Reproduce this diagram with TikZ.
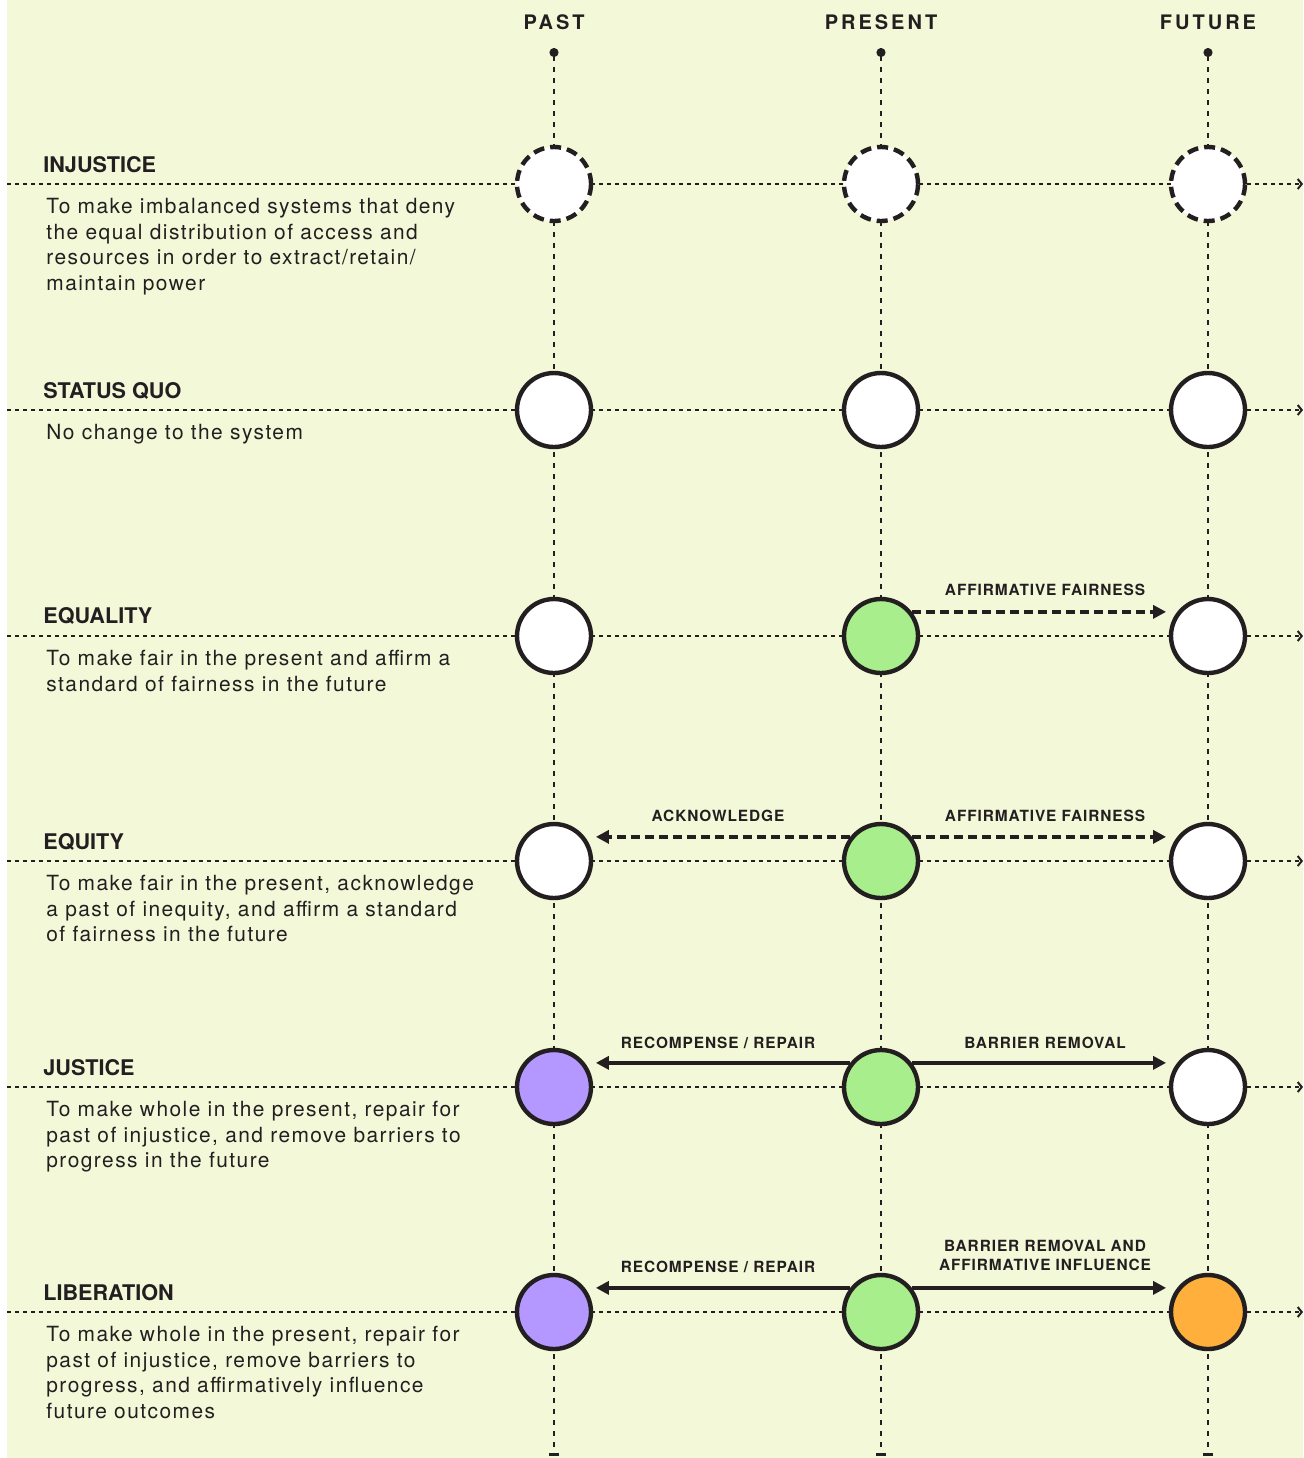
\documentclass[tikz,border=0pt]{standalone}
\usepackage{fontspec}
\setmainfont{TeX Gyre Heros}
\newfontfamily\descfont[LetterSpace=7]{TeX Gyre Heros}
\newfontfamily\headfont[LetterSpace=15]{TeX Gyre Heros}
\newfontfamily\tagfont[LetterSpace=6]{TeX Gyre Heros}
\usetikzlibrary{arrows.meta,positioning}
\definecolor{paper}{RGB}{242,248,216}
\definecolor{ink}{RGB}{35,31,32}
\definecolor{nowgreen}{RGB}{168,238,140}
\definecolor{pastpurple}{RGB}{181,152,255}
\definecolor{futorange}{RGB}{255,176,60}
\tikzset{
  hline/.style={ink,line width=1pt,dash pattern=on 2pt off 2pt,-{Straight Barb[length=2pt,width=5pt]}},
  vline/.style={ink,line width=1pt,dash pattern=on 2.5pt off 3pt,{Circle[length=4.5pt]}-{Bar[width=5pt,line width=1.5pt]}},
  ring/.style={circle,draw=ink,line width=2.2pt,minimum size=37pt,inner sep=0pt,fill=white},
  gapring/.style={ring,dash pattern=on 5.5pt off 3pt},
  push/.style={ink,line width=1.7pt,-{Triangle[length=6.5pt,width=6.5pt]},shorten >=5.5pt},
  pushdash/.style={push,dash pattern=on 4.5pt off 2.5pt},
  axislabel/.style={font=\headfont\bfseries\fontsize{10}{12}\selectfont,text=ink,inner sep=0pt},
  rowtitle/.style={font=\bfseries\fontsize{10.8}{13}\selectfont,text=ink,inner sep=0pt,anchor=base west},
  rowtext/.style={font=\descfont\fontsize{10.45}{12.8}\selectfont,text=ink,inner sep=0pt,align=left,anchor=north west},
  tag/.style={font=\tagfont\bfseries\fontsize{7.7}{9.5}\selectfont,text=ink,inner sep=0pt,align=center}
}
\begin{document}
\begin{tikzpicture}[x=0.5pt,y=-0.5pt]
\clip (0,0) rectangle (1303,1458);
\fill[white] (0,0) rectangle (1303,1458);
\fill[paper] (7,0) rectangle (1303,1458); % page

% time axes
\node[axislabel,anchor=base] (past) at (554,29) {PAST};
\node[axislabel,anchor=base] (present) at (881,29) {PRESENT};
\node[axislabel,anchor=base] (future) at (1208,29) {FUTURE};
\coordinate (pastTop) at (554,48);   \coordinate (pastEnd) at (554,1456);
\coordinate (presTop) at (881,48);   \coordinate (presEnd) at (881,1456);
\coordinate (futTop) at (1208,48);   \coordinate (futEnd) at (1208,1456);
\draw[vline] (pastTop) -- (pastEnd);
\draw[vline] (presTop) -- (presEnd);
\draw[vline] (futTop) -- (futEnd);

% one dotted line per row
\foreach \y in {184,410,636,861,1087,1312}
  \draw[hline] (7,\y) -- (1303,\y);

% injustice
\node[gapring] (past1) at (554,184) {};
\node[gapring] (pres1) at (881,184) {};
\node[gapring] (fut1) at (1208,184) {};
\node[rowtitle] (t1) at (43,172) {INJUSTICE};
\node[rowtext] (d1) at (46,198) {To make imbalanced systems that deny\\the equal distribution of access and\\resources in order to extract/retain/\\maintain power};

% status quo
\node[ring] (past2) at (554,410) {};
\node[ring] (pres2) at (881,410) {};
\node[ring] (fut2) at (1208,410) {};
\node[rowtitle] (t2) at (43,398) {STATUS QUO};
\node[rowtext] (d2) at (46,424) {No change to the system};

% equality
\node[ring] (past3) at (554,636) {};
\node[ring,fill=nowgreen] (pres3) at (881,636) {};
\node[ring] (fut3) at (1208,636) {};
\draw[pushdash] (pres3.38) -- (fut3.142);
\node[tag,anchor=base] (a3) at (1045,595) {AFFIRMATIVE FAIRNESS};
\node[rowtitle] (t3) at (43,623) {EQUALITY};
\node[rowtext] (d3) at (46,650) {To make fair in the present and affirm a\\standard of fairness in the future};

% equity
\node[ring] (past4) at (554,861) {};
\node[ring,fill=nowgreen] (pres4) at (881,861) {};
\node[ring] (fut4) at (1208,861) {};
\draw[pushdash] (pres4.142) -- (past4.38);
\draw[pushdash] (pres4.38) -- (fut4.142);
\node[tag,anchor=base] (b4) at (718,821) {ACKNOWLEDGE};
\node[tag,anchor=base] (a4) at (1045,821) {AFFIRMATIVE FAIRNESS};
\node[rowtitle] (t4) at (43,849) {EQUITY};
\node[rowtext] (d4) at (46,875) {To make fair in the present, acknowledge\\a past of inequity, and affirm a standard\\of fairness in the future};

% justice
\node[ring,fill=pastpurple] (past5) at (554,1087) {};
\node[ring,fill=nowgreen] (pres5) at (881,1087) {};
\node[ring] (fut5) at (1208,1087) {};
\draw[push] (pres5.142) -- (past5.38);
\draw[push] (pres5.38) -- (fut5.142);
\node[tag,anchor=base] (b5) at (718,1048) {RECOMPENSE / REPAIR};
\node[tag,anchor=base] (a5) at (1045,1048) {BARRIER REMOVAL};
\node[rowtitle] (t5) at (43,1075) {JUSTICE};
\node[rowtext] (d5) at (46,1101) {To make whole in the present, repair for\\past of injustice, and remove barriers to\\progress in the future};

% liberation
\node[ring,fill=pastpurple] (past6) at (554,1312) {};
\node[ring,fill=nowgreen] (pres6) at (881,1312) {};
\node[ring,fill=futorange] (fut6) at (1208,1312) {};
\draw[push] (pres6.142) -- (past6.38);
\draw[push] (pres6.38) -- (fut6.142);
\node[tag,anchor=base] (b6) at (718,1272) {RECOMPENSE / REPAIR};
\node[tag,anchor=south] (a6) at (1045,1271) {BARRIER REMOVAL AND\\AFFIRMATIVE INFLUENCE};
\node[rowtitle] (t6) at (43,1300) {LIBERATION};
\node[rowtext] (d6) at (46,1326) {To make whole in the present, repair for\\past of injustice, remove barriers to\\progress, and affirmatively influence\\future outcomes};
\end{tikzpicture}
\end{document}
